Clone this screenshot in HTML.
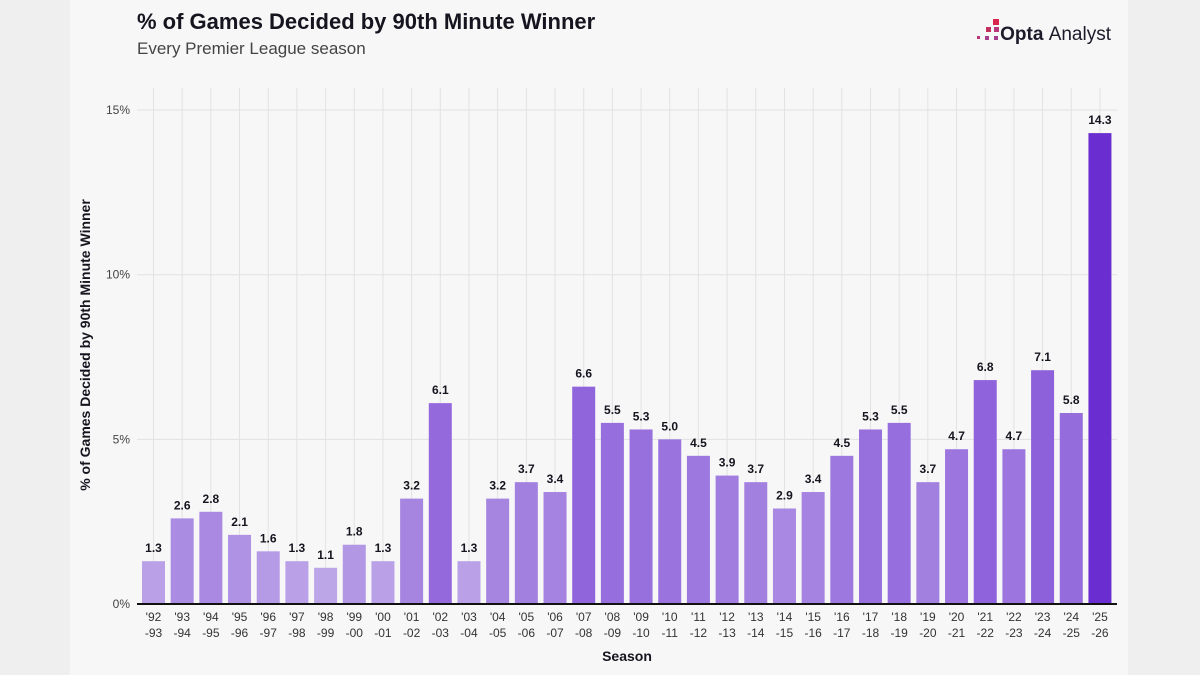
<!DOCTYPE html>
<html><head><meta charset="utf-8"><style>
body{margin:0;width:1200px;height:675px;background:#efefef;font-family:"Liberation Sans",sans-serif;overflow:hidden}
#panel{position:absolute;left:70px;top:0;width:1058px;height:675px;background:#f7f7f7}
</style></head><body>
<div id="panel"></div>
<svg id="chart" width="1200" height="675" style="position:absolute;left:0;top:0">
<text x="137" y="29" font-size="22" font-weight="bold" fill="#16141f">% of Games Decided by 90th Minute Winner</text>
<text x="137" y="54" font-size="17" fill="#444">Every Premier League season</text>
<g>
<rect x="993" y="19" width="6" height="6" fill="#d8264e"/><rect x="986" y="27" width="5" height="5" fill="#c2305e"/><rect x="994" y="27" width="5" height="5" fill="#b8377a"/>
<rect x="977" y="36" width="3" height="3" fill="#b8377a"/><rect x="985" y="36" width="4" height="4" fill="#a63e8e"/><rect x="994" y="36" width="4" height="4" fill="#a63e8e"/>
<text x="1111" y="40" font-size="19" font-weight="bold" fill="#1d1a2a" text-anchor="end">Opta <tspan font-weight="normal">Analyst</tspan></text>
</g>
<g id="grid"></g><g id="bars"></g><g id="labels"></g>
<line x1="137" x2="1117" y1="604" y2="604" stroke="#111" stroke-width="2"/>
<text x="90" y="345" font-size="14" font-weight="bold" fill="#16141f" text-anchor="middle" transform="rotate(-90 90 345)">% of Games Decided by 90th Minute Winner</text>
<text x="627" y="661" font-size="14" font-weight="bold" fill="#16141f" text-anchor="middle">Season</text>
</svg>
<script>
const seasons=['92','93','94','95','96','97','98','99','00','01','02','03','04','05','06','07','08','09','10','11','12','13','14','15','16','17','18','19','20','21','22','23','24','25','26'];
const values=[1.3,2.6,2.8,2.1,1.6,1.3,1.1,1.8,1.3,3.2,6.1,1.3,3.2,3.7,3.4,6.6,5.5,5.3,5.0,4.5,3.9,3.7,2.9,3.4,4.5,5.3,5.5,3.7,4.7,6.8,4.7,7.1,5.8,14.3];
const yTicks=[0,5,10,15];
const NS='http://www.w3.org/2000/svg';
const y=v=>604-v*32.93;
const x=i=>153.5+i*28.68;
const g=document.getElementById('grid'),b=document.getElementById('bars'),l=document.getElementById('labels');
function mk(tag,attrs,parent){const e=document.createElementNS(NS,tag);for(const k in attrs)e.setAttribute(k,attrs[k]);parent.appendChild(e);return e;}
yTicks.forEach(t=>{
 if(t>0){const ln=mk('line',{x1:137,x2:1117,y1:y(t),y2:y(t),stroke:'#e2e2e2','stroke-width':1},g);
 
 }
 const tx=mk('text',{x:130,y:y(t)+4,'font-size':12,fill:'#444','text-anchor':'end'},l);tx.textContent=t+'%';
 
 
});
const vmin=Math.min(...values),vmax=Math.max(...values);
function col(v){const t=Math.pow((v-vmin)/(vmax-vmin),0.7);const a=[189,166,232],c=[106,46,208];return 'rgb('+a.map((q,k)=>Math.round(q+(c[k]-q)*t)).join(',')+')';}
values.forEach((v,i)=>{
 const cx=x(i);
 const vl=mk('line',{x1:cx,x2:cx,y1:88,y2:604,stroke:'#e2e2e2','stroke-width':1},g);
 
 
 const r=mk('rect',{x:cx-11.5,y:y(v),width:23,height:604-y(v),fill:col(v)},b);
 
 
 const vt=mk('text',{x:cx,y:y(v)-9,'font-size':12,'font-weight':'bold',fill:'#16141f','text-anchor':'middle'},l);vt.textContent=v.toFixed(1);
 
 
 const t1=mk('text',{x:cx,y:621,'font-size':12,fill:'#333','text-anchor':'middle'},l);t1.textContent="'"+seasons[i];
 
 
 const t2=mk('text',{x:cx,y:637,'font-size':12,fill:'#333','text-anchor':'middle'},l);t2.textContent="-"+seasons[i+1];
 
 
});
</script>
</body></html>
